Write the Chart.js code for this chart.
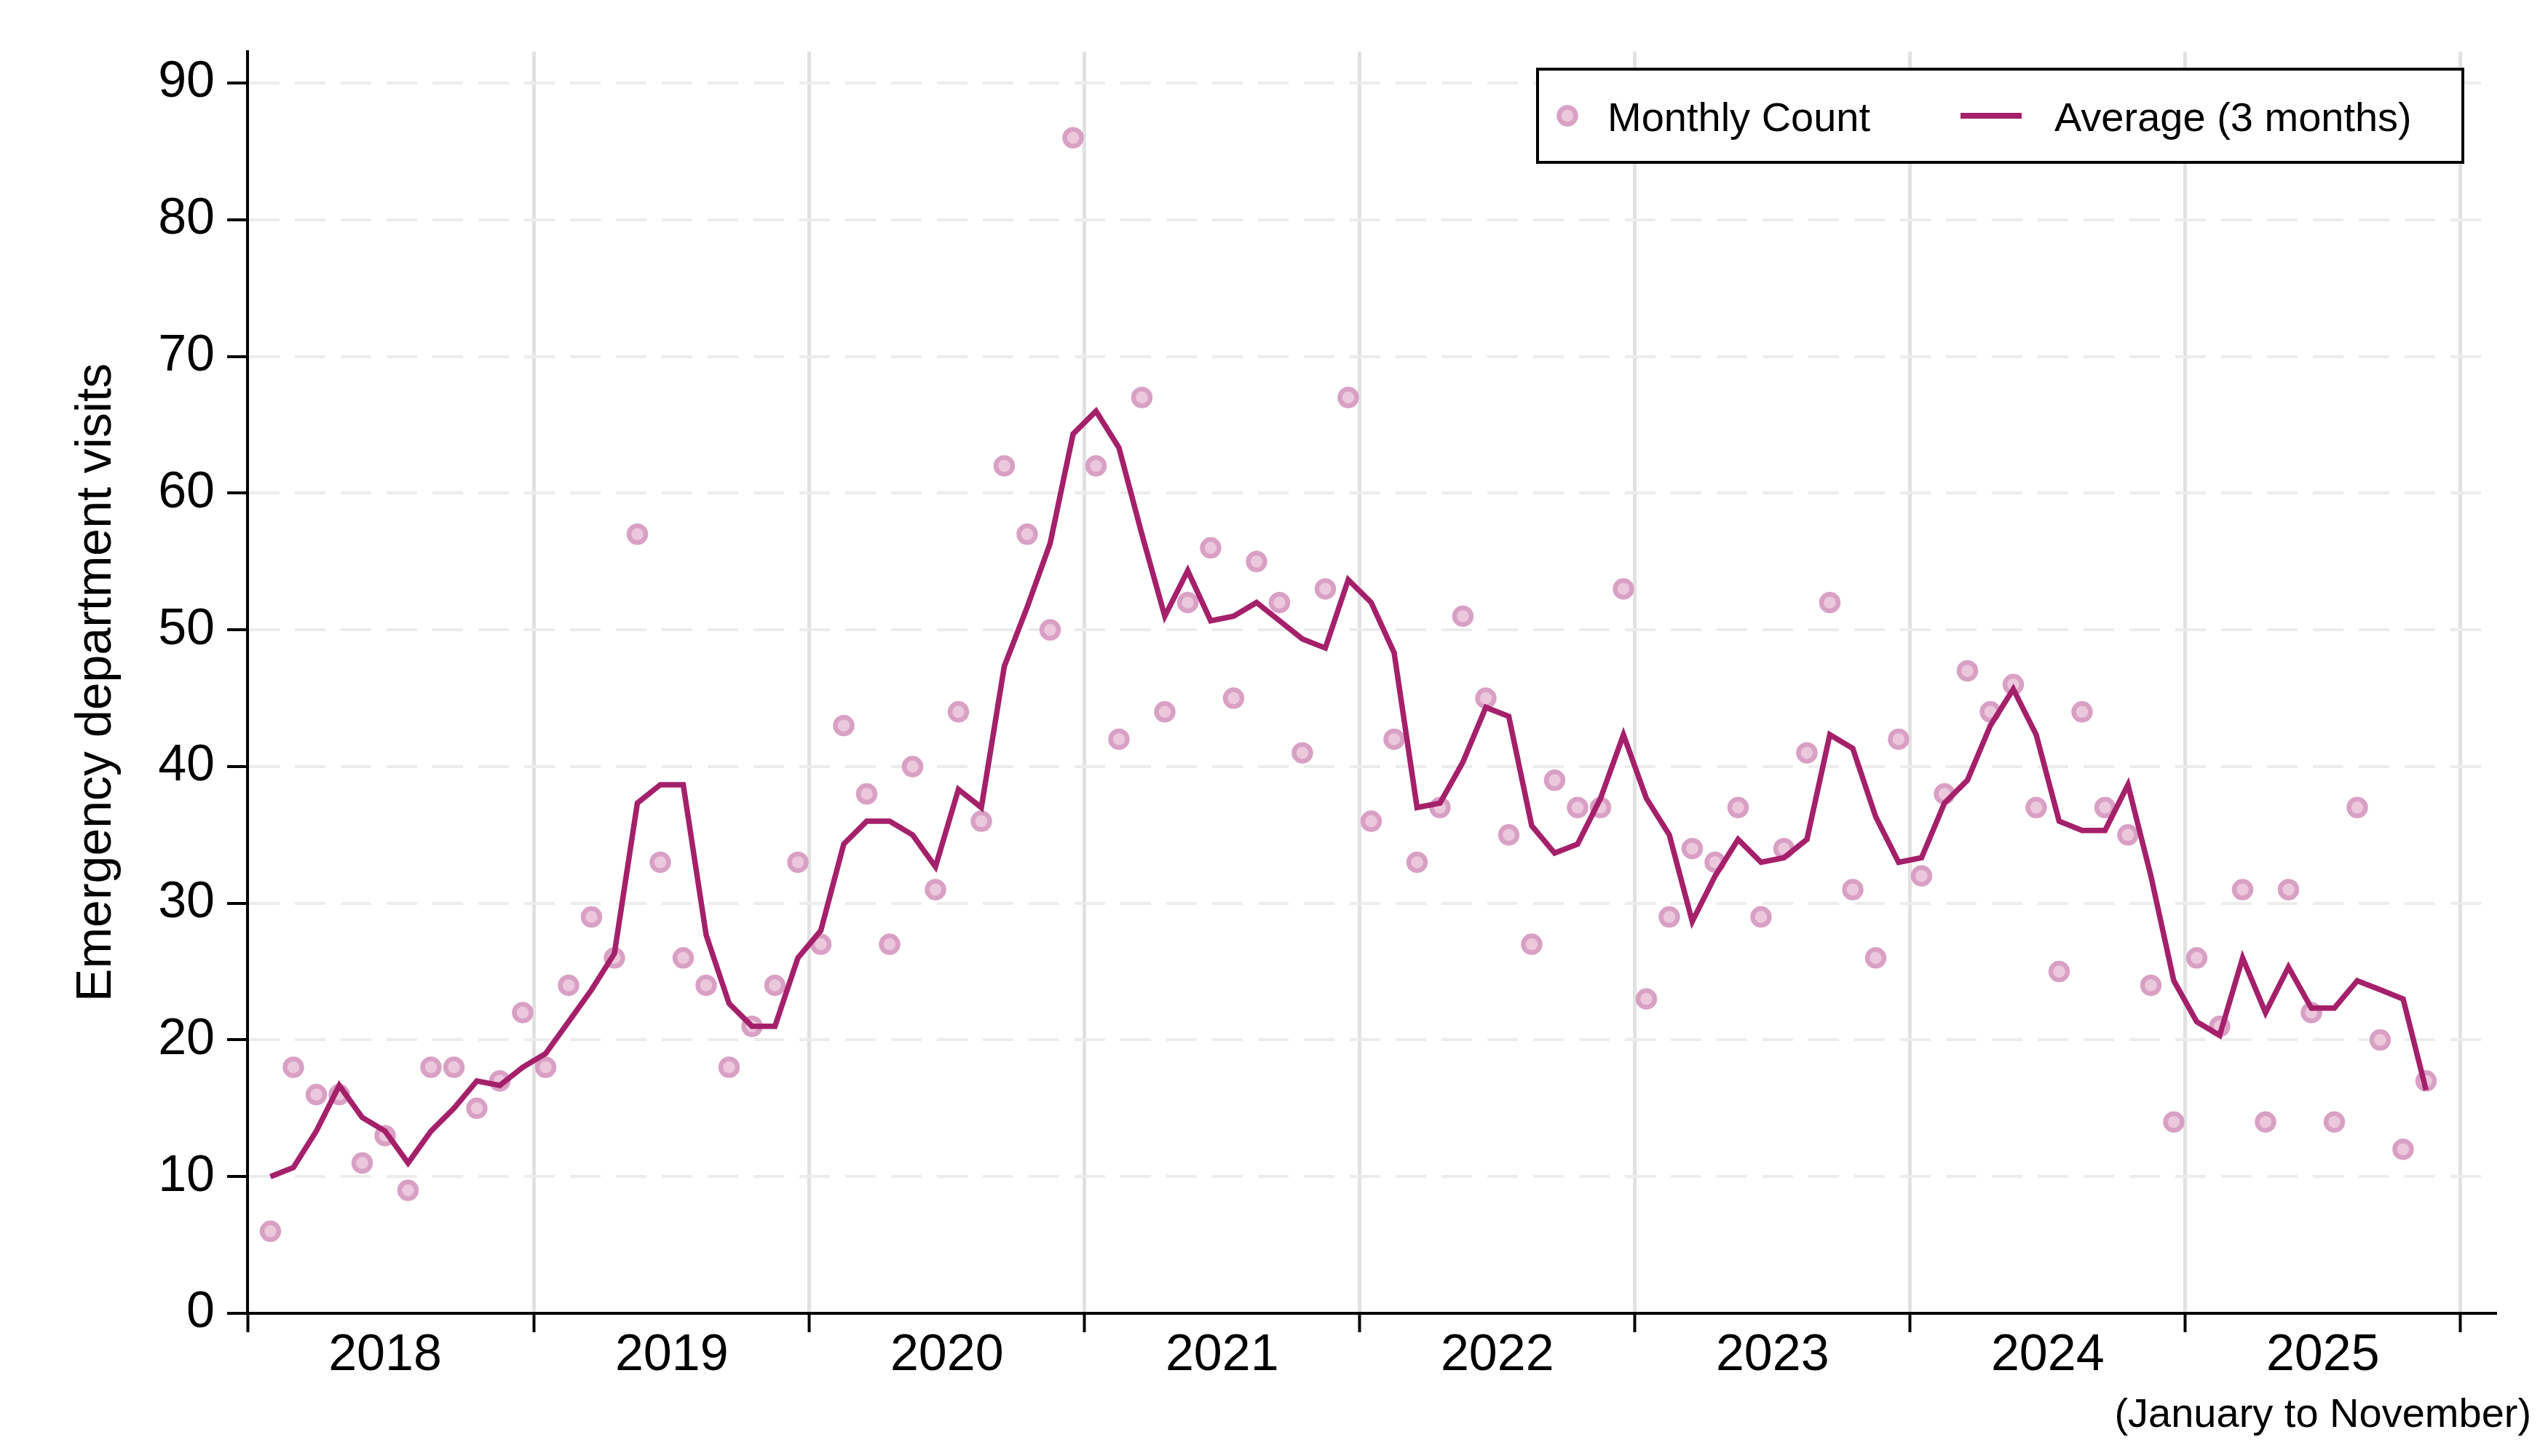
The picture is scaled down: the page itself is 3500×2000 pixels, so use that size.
<!DOCTYPE html>
<html>
<head>
<meta charset="utf-8">
<script src="https://cdn.jsdelivr.net/npm/chart.js@4.4.1/dist/chart.umd.min.js"></script>
<style>
  html, body { margin: 0; padding: 0; background: #ffffff; }
  canvas { display: block; }
</style>
</head>
<body>
<canvas id="chart" width="3500" height="2000"></canvas>
<script>
// months are indexed from 0 = January 2018 to 94 = November 2025
const yearLabels = ["2018", "2019", "2020", "2021", "2022", "2023", "2024", "2025"];
const yearCenters = [5, 17.5, 29.5, 41.5, 53.5, 65.5, 77.5, 89.5];
const yearBreaks = [-1, 11.5, 23.5, 35.5, 47.5, 59.5, 71.5, 83.5, 95.5];
const yTicks = [0, 10, 20, 30, 40, 50, 60, 70, 80, 90];
const partialYearNote = "(January to November)";

const monthlyCount = [
  6, 18, 16, 16, 11, 13, 9, 18, 18, 15, 17, 22,
  18, 24, 29, 26, 57, 33, 26, 24, 18, 21, 24, 33,
  27, 43, 38, 27, 40, 31, 44, 36, 62, 57, 50, 86,
  62, 42, 67, 44, 52, 56, 45, 55, 52, 41, 53, 67,
  36, 42, 33, 37, 51, 45, 35, 27, 39, 37, 37, 53,
  23, 29, 34, 33, 37, 29, 34, 41, 52, 31, 26, 42,
  32, 38, 47, 44, 46, 37, 25, 44, 37, 35, 24, 14,
  26, 21, 31, 14, 31, 22, 14, 37, 20, 12, 17
];

const average3 = [
  10.00, 10.67, 13.33, 16.67, 14.33, 13.33, 11.00, 13.33, 15.00, 17.00, 16.67, 18.00,
  19.00, 21.33, 23.67, 26.33, 37.33, 38.67, 38.67, 27.67, 22.67, 21.00, 21.00, 26.00,
  28.00, 34.33, 36.00, 36.00, 35.00, 32.67, 38.33, 37.00, 47.33, 51.67, 56.33, 64.33,
  66.00, 63.33, 57.00, 51.00, 54.33, 50.67, 51.00, 52.00, 50.67, 49.33, 48.67, 53.67,
  52.00, 48.33, 37.00, 37.33, 40.33, 44.33, 43.67, 35.67, 33.67, 34.33, 37.67, 42.33,
  37.67, 35.00, 28.67, 32.00, 34.67, 33.00, 33.33, 34.67, 42.33, 41.33, 36.33, 33.00,
  33.33, 37.33, 39.00, 43.00, 45.67, 42.33, 36.00, 35.33, 35.33, 38.67, 32.00, 24.33,
  21.33, 20.33, 26.00, 22.00, 25.33, 22.33, 22.33, 24.33, 23.67, 23.00, 16.33
];

const FONT = "'Liberation Sans', Arial, Helvetica, sans-serif";
const lineColor = "#a5206a";
const dotFill = "#ecc8dd";
const dotBorder = "#d9a0c4";

// legend box drawn inside the plot, top right
const boxLegend = {
  id: "boxLegend",
  afterDatasetsDraw(chart) {
    const { ctx, chartArea } = chart;
    const w = 1271, h = 128;
    const left = chartArea.right - 44 - w;
    const top = chartArea.top + 24;
    const midY = top + h / 2;
    ctx.save();
    ctx.fillStyle = "#ffffff";
    ctx.fillRect(left, top, w, h);
    ctx.lineWidth = 4;
    ctx.strokeStyle = "#000000";
    ctx.strokeRect(left, top, w, h);

    ctx.beginPath();
    ctx.arc(left + 41, midY, 11.5, 0, Math.PI * 2);
    ctx.fillStyle = dotFill;
    ctx.fill();
    ctx.lineWidth = 6.5;
    ctx.strokeStyle = dotBorder;
    ctx.stroke();

    ctx.beginPath();
    ctx.moveTo(left + 581, midY);
    ctx.lineTo(left + 665, midY);
    ctx.lineWidth = 8;
    ctx.strokeStyle = lineColor;
    ctx.stroke();

    ctx.fillStyle = "#000000";
    ctx.font = "56px " + FONT;
    ctx.textBaseline = "middle";
    ctx.textAlign = "left";
    ctx.fillText(chart.data.datasets[0].label, left + 96, midY + 6);
    ctx.fillText(chart.data.datasets[1].label, left + 710, midY + 6);
    ctx.restore();
  }
};

// note under the last (partial) year label
const partialNote = {
  id: "partialNote",
  afterDraw(chart) {
    const { ctx } = chart;
    const x = chart.scales.x.getPixelForValue(yearCenters[yearCenters.length - 1]);
    ctx.save();
    ctx.fillStyle = "#000000";
    ctx.font = "56px " + FONT;
    ctx.textAlign = "center";
    ctx.textBaseline = "alphabetic";
    ctx.fillText(partialYearNote, x, chart.chartArea.bottom + 156);
    ctx.restore();
  }
};

const isBreak = (c) => c.tick && yearBreaks.includes(c.tick.value);

new Chart(document.getElementById("chart"), {
  type: "scatter",
  data: {
    datasets: [
      {
        label: "Monthly Count",
        data: monthlyCount.map((v, i) => ({ x: i, y: v })),
        pointRadius: 11.5,
        pointHoverRadius: 11.5,
        pointBorderWidth: 6.5,
        backgroundColor: dotFill,
        borderColor: dotBorder,
        order: 2,
      },
      {
        label: "Average (3 months)",
        data: average3.map((v, i) => ({ x: i, y: v })),
        showLine: true,
        pointRadius: 0,
        borderColor: lineColor,
        backgroundColor: lineColor,
        borderWidth: 7.5,
        tension: 0,
        order: 1,
      },
    ],
  },
  options: {
    responsive: false,
    devicePixelRatio: 1,
    animation: false,
    layout: { padding: { top: 71, right: 73, bottom: 0, left: 0 } },
    scales: {
      x: {
        type: "linear",
        min: -1,
        max: 97,
        afterBuildTicks: (s) => {
          s.ticks = yearBreaks.concat(yearCenters).sort((a, b) => a - b).map((v) => ({ value: v }));
        },
        afterFit: (s) => { s.height = 196; },
        ticks: {
          autoSkip: false,
          maxRotation: 0,
          padding: -9,
          color: "#000000",
          font: { family: FONT, size: 70 },
          callback: (value) => {
            const i = yearCenters.indexOf(value);
            return i >= 0 ? yearLabels[i] : "";
          },
        },
        grid: {
          color: (c) => (isBreak(c) && c.tick.value > -1 ? "#e1e1e1" : "rgba(0,0,0,0)"),
          lineWidth: 5,
          tickColor: (c) => (isBreak(c) ? "#000000" : "rgba(0,0,0,0)"),
          tickWidth: 4,
          tickLength: 26,
        },
        border: { color: "#000000", width: 4 },
      },
      y: {
        min: 0,
        max: 92.3,
        afterBuildTicks: (s) => {
          s.ticks = yTicks.map((v) => ({ value: v }));
        },
        afterFit: (s) => { s.width = 340; },
        ticks: {
          padding: 17,
          color: "#000000",
          font: { family: FONT, size: 70 },
        },
        grid: {
          color: "#ececec",
          lineWidth: 4,
          tickColor: "#000000",
          tickWidth: 4,
          tickLength: 28,
        },
        border: { color: "#000000", width: 4, dash: [42, 21] },
        title: {
          display: true,
          text: "Emergency department visits",
          color: "#000000",
          font: { family: FONT, size: 68 },
          padding: { top: 92, bottom: 0 },
        },
      },
    },
    plugins: {
      legend: { display: false },
      tooltip: { enabled: false },
    },
  },
  plugins: [boxLegend, partialNote],
});
</script>
</body>
</html>
